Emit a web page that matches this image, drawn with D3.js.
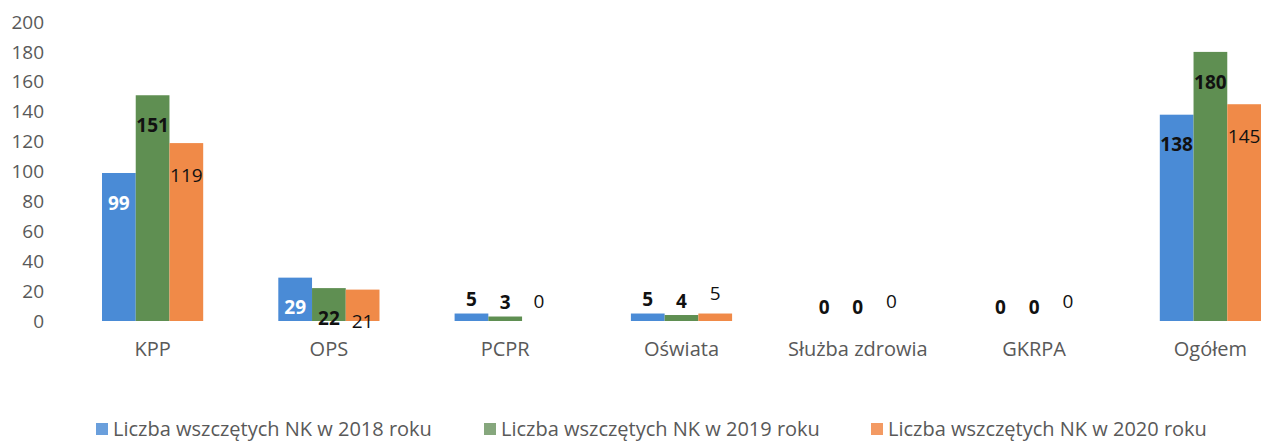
<!DOCTYPE html>
<html>
<head>
<meta charset="utf-8">
<script src="https://d3js.org/d3.v7.min.js"></script>
<style>
  body { margin: 0; background: white; }
  text { font-family: 'Open Sans', sans-serif; }
</style>
</head>
<body>
<svg id="chart"></svg>
<script>
// data
var categories = ["KPP", "OPS", "PCPR", "Oświata", "Służba zdrowia", "GKRPA", "Ogółem"];
var years = ["2018", "2019", "2020"];
var v2018 = [99, 29, 5, 5, 0, 0, 138];
var v2019 = [151, 22, 3, 4, 0, 0, 180];
var v2020 = [119, 21, 0, 5, 0, 0, 145];
var seriesNames = ["Liczba wszczętych NK w 2018 roku", "Liczba wszczętych NK w 2019 roku", "Liczba wszczętych NK w 2020 roku"];
var yTicks = [0, 20, 40, 60, 80, 100, 120, 140, 160, 180, 200];

var colors = ["#4a8bd6", "#5f8f52", "#f08a48"];
var legendColors = ["#6a9fdc", "#86a77d", "#f39a63"];

var width = 1266, height = 441;
var svg = d3.select("#chart").attr("width", width).attr("height", height);

var allValues = [v2018, v2019, v2020];

var x = d3.scaleBand().domain(categories).range([102, 1261]).paddingInner(0.426).paddingOuter(0);
var x1 = d3.scaleBand().domain(years).range([0, x.bandwidth()]);
var y = d3.scaleLinear().domain([0, 200]).range([321, 22]);

// y axis labels, no line
svg.append("g").selectAll("text")
  .data(yTicks)
  .enter().append("text")
  .attr("x", 44)
  .attr("y", function(d) { return y(d); })
  .attr("dy", "0.35em")
  .attr("text-anchor", "end")
  .attr("font-size", "19px")
  .attr("fill", "#595959")
  .text(function(d) { return d; });

// category labels
svg.append("g").selectAll("text")
  .data(categories)
  .enter().append("text")
  .attr("x", function(d) { return x(d) + x.bandwidth() / 2; })
  .attr("y", 349)
  .attr("dy", "0.35em")
  .attr("text-anchor", "middle")
  .attr("font-size", "20px")
  .attr("fill", "#595959")
  .text(function(d) { return d; });

// bars
var rows = [];
categories.forEach(function(c, i) {
  years.forEach(function(yr, s) {
    rows.push({cat: c, year: yr, s: s, value: allValues[s][i]});
  });
});

svg.append("g").selectAll("rect")
  .data(rows)
  .enter().append("rect")
  .attr("x", function(d) { return x(d.cat) + x1(d.year); })
  .attr("y", function(d) { return y(d.value); })
  .attr("width", x1.bandwidth())
  .attr("height", function(d) { return y(0) - y(d.value); })
  .attr("fill", function(d) { return colors[d.s]; });

// value labels
svg.append("g").selectAll("text")
  .data(rows)
  .enter().append("text")
  .attr("x", function(d) { return x(d.cat) + x1(d.year) + x1.bandwidth() / 2; })
  .attr("y", function(d) {
    if (d.value > 15) return y(d.value) + (d.s == 2 ? 32 : 30);
    return y(d.value) - 14 - (d.s == 2 ? 6 : 0);
  })
  .attr("dy", "0.35em")
  .attr("text-anchor", "middle")
  .attr("font-size", "19px")
  .attr("font-weight", function(d) { return d.s == 2 ? "normal" : "bold"; })
  .attr("fill", function(d) { return (d.s == 0 && d.value > 15 && d.value < 100) ? "white" : "#111"; })
  .text(function(d) { return d.value; });

// legend
var legendX = [96, 484, 871];
var legend = svg.append("g").selectAll("g")
  .data(seriesNames)
  .enter().append("g")
  .attr("transform", function(d, i) { return "translate(" + legendX[i] + ",429)"; });

legend.append("rect")
  .attr("x", 0).attr("y", -6)
  .attr("width", 12).attr("height", 12)
  .attr("fill", function(d, i) { return legendColors[i]; });

legend.append("text")
  .attr("x", 17)
  .attr("dy", "0.35em")
  .attr("font-size", "20px")
  .attr("fill", "#595959")
  .text(function(d) { return d; });
</script>
</body>
</html>
